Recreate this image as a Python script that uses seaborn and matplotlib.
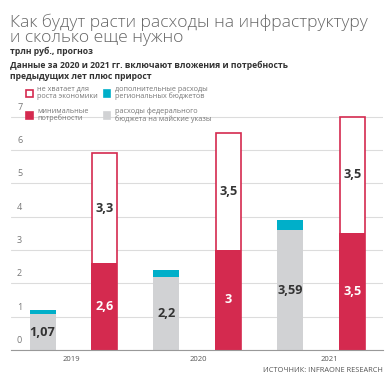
import matplotlib
matplotlib.use("Agg")
import matplotlib.pyplot as plt
import seaborn as sns
import pandas as pd

years = ['2019', '2020', '2021']
federal = [1.07, 2.2, 3.59]          # расходы федерального бюджета на майские указы
regional = [0.14, 0.21, 0.32]        # дополнительные расходы региональных бюджетов
minimal = [2.6, 3.0, 3.5]            # минимальные потребности
lacking = [3.3, 3.5, 3.5]            # не хватает для роста экономики

red = '#d42a4f'
cyan = '#00afc9'
grey = '#d1d2d4'
txt = '#333333'

order = []
for y in years:
    order += ['g' + y, 'r' + y]

df = pd.DataFrame({
    'year': years,
    'federal': federal,
    'regional': regional,
    'minimal': minimal,
    'lacking': lacking,
})
df['g'] = 'g' + df['year']
df['r'] = 'r' + df['year']
df['fed_total'] = df['federal'] + df['regional']
df['need_total'] = df['minimal'] + df['lacking']

sns.set_style('white')
plt.rcParams['font.family'] = ['Open Sans', 'DejaVu Sans']

fig = plt.figure(figsize=(3.91, 3.80), dpi=100)
ax = fig.add_axes([0.028, 0.079, 0.952, 0.623])

w = 0.42
sns.barplot(data=df, x='g', y='fed_total', order=order, color=cyan,
            width=w, saturation=1, linewidth=0, ax=ax)
sns.barplot(data=df, x='g', y='federal', order=order, color=grey,
            width=w, saturation=1, linewidth=0, ax=ax)
sns.barplot(data=df, x='r', y='need_total', order=order, color='white',
            edgecolor=red, linewidth=1.2, width=w - 0.02, saturation=1, ax=ax)
sns.barplot(data=df, x='r', y='minimal', order=order, color=red,
            width=w, saturation=1, linewidth=0, ax=ax)

def fmt(v):
    return ('%g' % v).replace('.', ',')

for i, row in df.iterrows():
    gx = 2 * i
    rx = 2 * i + 1
    ax.text(gx, row['federal'] / 2, fmt(row['federal']), ha='center', va='center',
            fontsize=9.2, fontweight='bold', color=txt)
    ax.text(rx, row['minimal'] / 2, fmt(row['minimal']), ha='center', va='center',
            fontsize=9.2, fontweight='bold', color='white')
    ax.text(rx, row['minimal'] + row['lacking'] / 2, fmt(row['lacking']), ha='center',
            va='center', fontsize=9.2, fontweight='bold', color=txt)

ax.set_xlim(-0.51, 5.5)
ax.set_ylim(0, 7.1)
ax.set_yticks(range(8))
ax.set_yticklabels([])
ax.tick_params(axis='y', length=0)
ax.yaxis.grid(True, color='#dcdcdc', linewidth=0.8)
ax.set_axisbelow(True)
for v in range(8):
    ax.text(-0.37, v + 0.28, str(v), ha='center', va='center', fontsize=6.5,
            color='#777777', clip_on=False)

ax.set_xticks([0.47, 2.51, 4.63])
ax.set_xticklabels(years, fontsize=5.5, color='#555555')
ax.tick_params(axis='x', length=0, pad=4)
ax.set_xlabel('')
ax.set_ylabel('')
for s in ['top', 'right', 'left']:
    ax.spines[s].set_visible(False)
ax.spines['bottom'].set_color('#999999')
ax.spines['bottom'].set_linewidth(0.8)

# title and notes
fig.text(0.025, 0.929, 'Как будут расти расходы на инфраструктуру', fontsize=12.6,
         fontweight='light', color='#666666', va='baseline')
fig.text(0.025, 0.889, 'и сколько еще нужно', fontsize=12.6,
         fontweight='light', color='#666666', va='baseline')
fig.text(0.025, 0.857, 'трлн руб., прогноз', fontsize=6.2, fontweight='bold',
         color=txt, va='baseline')
fig.text(0.025, 0.821, 'Данные за 2020 и 2021 гг. включают вложения и потребность',
         fontsize=6.2, fontweight='bold', color=txt, va='baseline')
fig.text(0.025, 0.791, 'предыдущих лет плюс прирост',
         fontsize=6.2, fontweight='bold', color=txt, va='baseline')

# legend
legend_items = [
    (29, 93, 'white', red, 'не хватает для\nроста экономики'),
    (107, 93, cyan, cyan, 'дополнительные расходы\nрегиональных бюджетов'),
    (29, 115, red, red, 'минимальные\nпотребности'),
    (107, 115, grey, grey, 'расходы федерального\nбюджета на майские указы'),
]
W, H = 391.0, 380.0
for px, py, fc, ec, label in legend_items:
    fig.patches.append(plt.Rectangle(((px - 3.5) / W, 1 - (py + 3.5) / H), 7 / W, 7 / H,
                                     facecolor=fc, edgecolor=ec, linewidth=1.2,
                                     transform=fig.transFigure, figure=fig))
    fig.text((px + 8) / W, 1 - py / H, label, fontsize=5.2, color='#777777',
             va='center', ha='left', linespacing=1.0)

fig.text(0.98, 0.022, 'ИСТОЧНИК: INFRAONE RESEARCH', fontsize=5.3, color='#555555',
         ha='right', va='baseline')

fig.savefig('out.png', dpi=100, facecolor='white')
